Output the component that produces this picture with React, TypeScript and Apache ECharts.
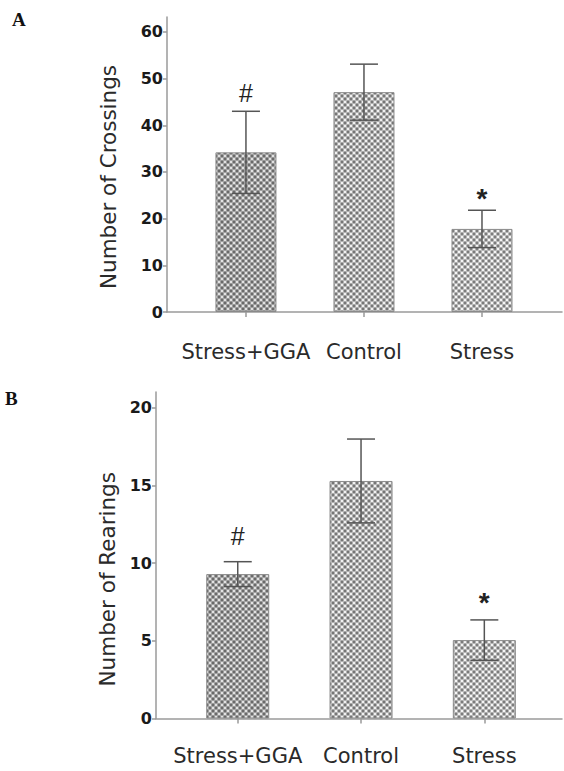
import React, { useEffect, useRef } from "react";
import * as echarts from "echarts";

const categories = ["Stress+GGA", "Control", "Stress"];
const crossingsMean = [34.2, 47.1, 17.8];
const crossingsErr = [8.8, 6.0, 4.0];
const rearingsMean = [9.3, 15.3, 5.05];
const rearingsErr = [0.8, 2.7, 1.3];
const marks = ["#", "", "*"];
const crossingsTicks = [0, 10, 20, 30, 40, 50, 60];
const rearingsTicks = [0, 5, 10, 15, 20];
const categoryPositions = [0, 1, 2];

const FONT = "DejaVu Sans";
const AXIS_COLOR = "#9a9a9a";

function makePattern(bg: string, dark: string, light: string) {
  const c = document.createElement("canvas");
  c.width = 6;
  c.height = 6;
  const ctx = c.getContext("2d")!;
  ctx.fillStyle = bg;
  ctx.fillRect(0, 0, 6, 6);
  ctx.fillStyle = dark;
  for (const [x, y] of [[0, 0], [6, 0], [0, 6], [6, 6], [3, 3]]) {
    ctx.beginPath();
    ctx.arc(x, y, 1.4, 0, Math.PI * 2);
    ctx.fill();
  }
  ctx.fillStyle = light;
  for (const [x, y] of [[3, 0], [0, 3], [6, 3], [3, 6]]) {
    ctx.beginPath();
    ctx.arc(x, y, 1.2, 0, Math.PI * 2);
    ctx.fill();
  }
  return c;
}

export default function App() {
  const ref = useRef<HTMLDivElement>(null);
  useEffect(() => {
    document.body.style.margin = "0";
    const chart = echarts.init(ref.current!, undefined, { renderer: "svg" });
    const patterns = [
      makePattern("#a9a9a9", "#6a6a6a", "#e4e4e4"),
      makePattern("#bcbcbc", "#767676", "#f2f2f2"),
      makePattern("#c2c2c2", "#7c7c7c", "#f6f6f6"),
    ];

    const barData = (means: number[]) =>
      means.map((v, i) => ({
        value: [categoryPositions[i], v],
        itemStyle: {
          color: { image: patterns[i], repeat: "repeat" },
          borderColor: "#8a8a8a",
          borderWidth: 1,
        },
      }));

    const errData = (means: number[], errs: number[]) =>
      means.map((v, i) => [categoryPositions[i], v - errs[i], v + errs[i]]);

    const errRender = (gaps: number[]) => (params: any, api: any) => {
      const x = api.value(0);
      const lo = api.value(1);
      const hi = api.value(2);
      const top = api.coord([x, hi]);
      const bot = api.coord([x, lo]);
      const hw = 14;
      const style = { stroke: "#555", lineWidth: 1.5 };
      const mark = marks[params.dataIndex];
      const children: any[] = [
        { type: "line", shape: { x1: top[0], y1: top[1], x2: bot[0], y2: bot[1] }, style },
        { type: "line", shape: { x1: top[0] - hw, y1: top[1], x2: top[0] + hw, y2: top[1] }, style },
        { type: "line", shape: { x1: bot[0] - hw, y1: bot[1], x2: bot[0] + hw, y2: bot[1] }, style },
      ];
      if (mark) {
        children.push({
          type: "text",
          x: top[0],
          y: top[1] - gaps[params.dataIndex],
          style: {
            text: mark,
            fill: "#222",
            font: mark === "*" ? "bold 28px 'Liberation Sans'" : "25px 'Liberation Sans'",
            align: "center",
            verticalAlign: "middle",
          },
        });
      }
      return { type: "group", children };
    };

    const xAxis = (gridIndex: number, min: number, max: number, margin: number) => ({
      type: "value",
      gridIndex,
      min,
      max,
      splitLine: { show: false },
      axisLine: { show: true, onZero: false, lineStyle: { color: AXIS_COLOR, width: 1.5 } },
      axisTick: { show: true, customValues: categoryPositions, length: 5, lineStyle: { color: AXIS_COLOR, width: 1.5 } },
      axisLabel: {
        customValues: categoryPositions,
        formatter: (v: number) => categories[Math.round(v)] ?? "",
        margin,
        fontSize: 21,
        fontFamily: FONT,
        color: "#2a2a2a",
      },
    });

    const yAxis = (gridIndex: number, max: number, ticks: number[], name: string, gap: number, pad: number) => ({
      type: "value",
      gridIndex,
      min: 0,
      max,
      splitLine: { show: false },
      axisLine: { show: true, onZero: false, lineStyle: { color: AXIS_COLOR, width: 1.5 } },
      axisTick: { show: true, customValues: ticks, length: 4, lineStyle: { color: AXIS_COLOR, width: 1.5 } },
      axisLabel: {
        customValues: ticks,
        fontSize: 16,
        fontWeight: "bold",
        fontFamily: FONT,
        color: "#1a1a1a",
        margin: 4,
      },
      name,
      nameLocation: "middle",
      nameRotate: 90,
      nameGap: gap,
      nameTextStyle: { fontSize: 21.5, fontFamily: FONT, color: "#2a2a2a", padding: [0, pad, 0, 0] },
    });

    chart.setOption({
      animation: false,
      backgroundColor: "#fff",
      grid: [
        { left: 167, right: 2, top: 17, bottom: 459 },
        { left: 156, right: 2, top: 392, bottom: 52.5 },
      ],
      xAxis: [xAxis(0, -0.669, 2.678, 29), xAxis(1, -0.663, 2.63, 27)],
      yAxis: [
        yAxis(0, 63.2, crossingsTicks, "Number of Crossings", 48, 25),
        yAxis(1, 21.03, rearingsTicks, "Number of Rearings", 37, 48),
      ],
      graphic: [
        { type: "text", left: 12, top: 10, style: { text: "A", font: "bold 19px 'Liberation Serif'", fill: "#111" } },
        { type: "text", left: 5, top: 389, style: { text: "B", font: "bold 19px 'Liberation Serif'", fill: "#111" } },
      ],
      series: [
        { type: "bar", xAxisIndex: 0, yAxisIndex: 0, barWidth: 61, data: barData(crossingsMean) },
        {
          type: "custom",
          xAxisIndex: 0,
          yAxisIndex: 0,
          renderItem: errRender([18, 0, 12]),
          data: errData(crossingsMean, crossingsErr),
          z: 5,
        },
        { type: "bar", xAxisIndex: 1, yAxisIndex: 1, barWidth: 63, data: barData(rearingsMean) },
        {
          type: "custom",
          xAxisIndex: 1,
          yAxisIndex: 1,
          renderItem: errRender([26, 0, 17]),
          data: errData(rearingsMean, rearingsErr),
          z: 5,
        },
      ],
    });
    return () => chart.dispose();
  }, []);
  return <div ref={ref} style={{ width: 564, height: 771, position: "absolute", left: 0, top: 0 }} />;
}
